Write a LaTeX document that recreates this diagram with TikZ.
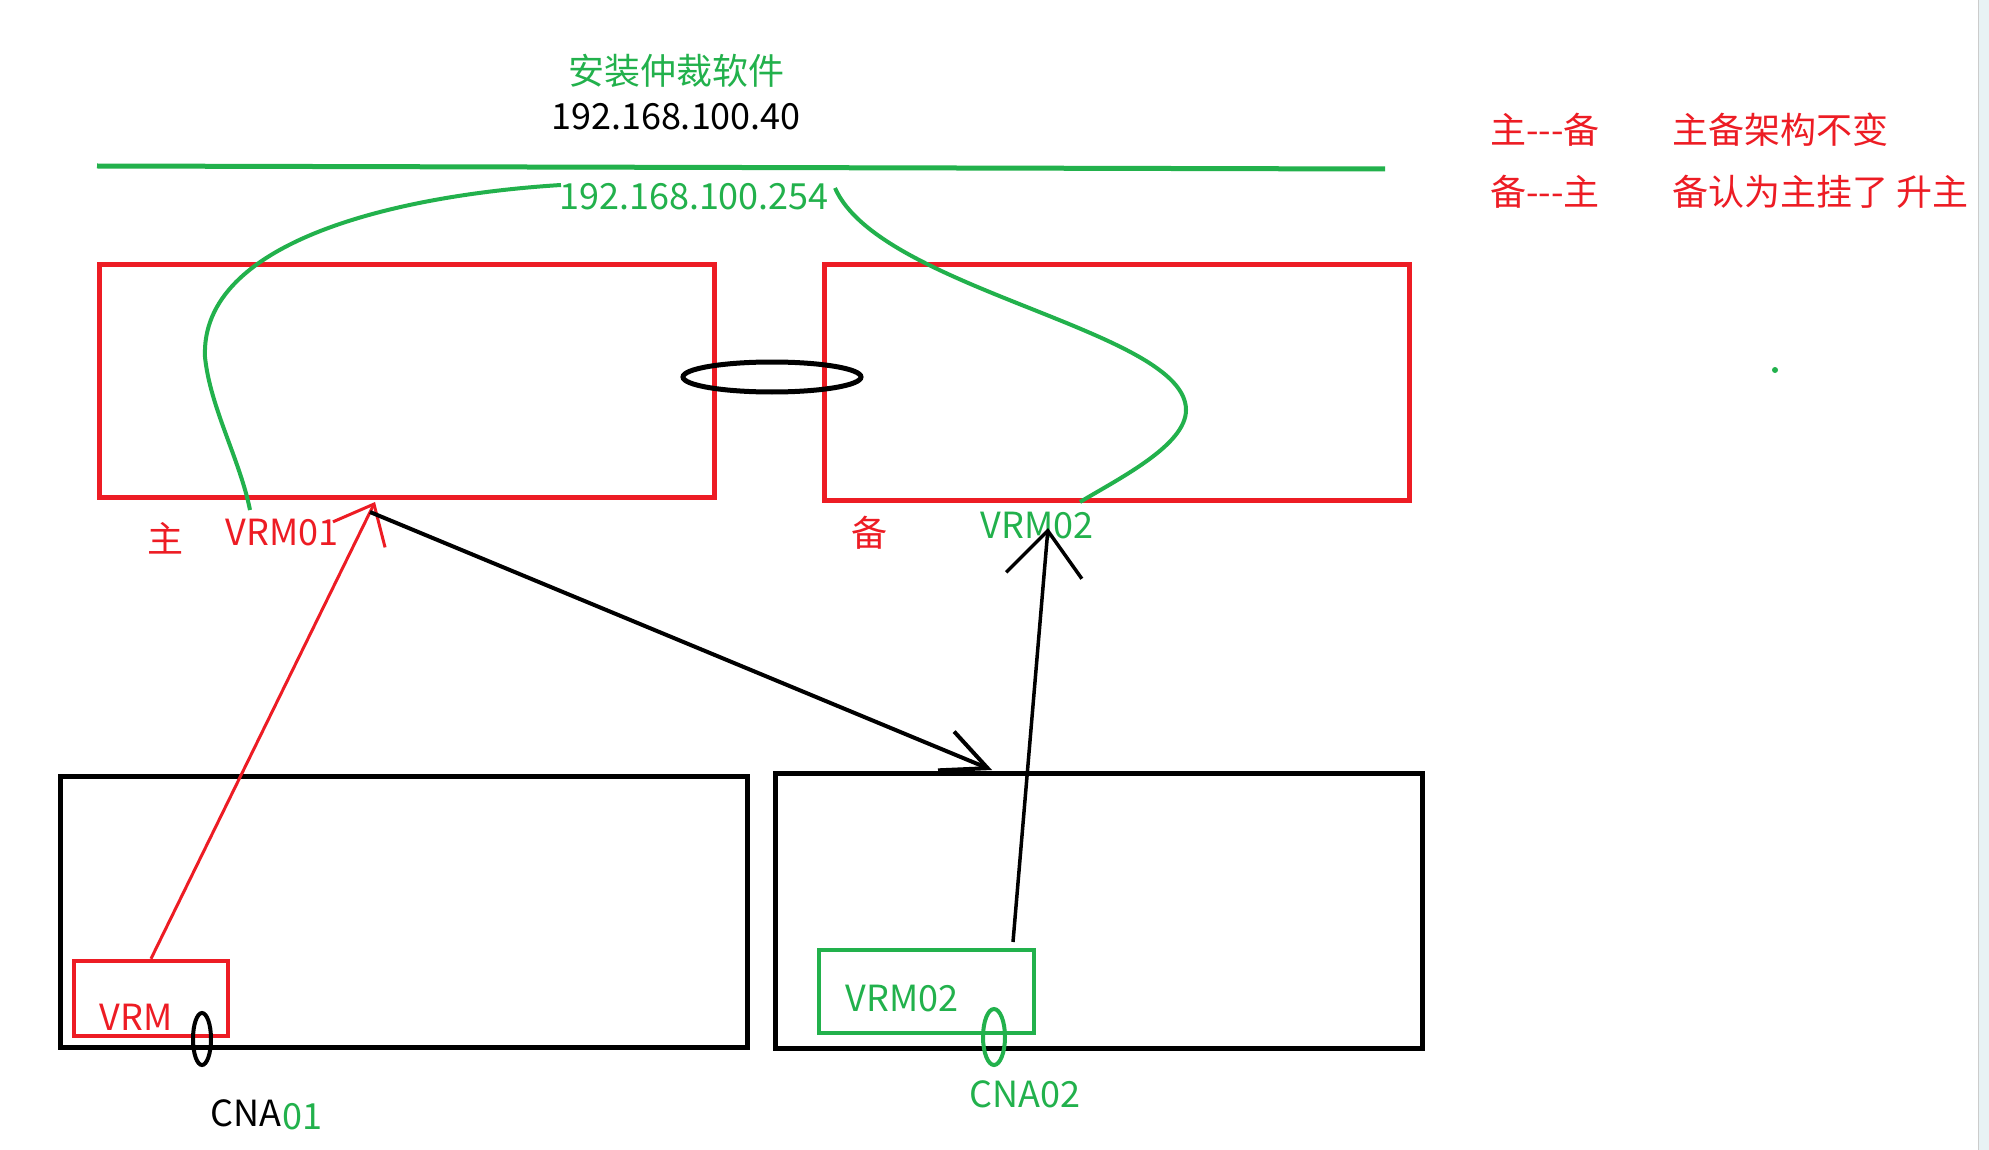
\documentclass[tikz,border=0pt]{standalone}
\usepackage{fontspec}
\setmainfont{Noto Sans CJK SC}
\usetikzlibrary{arrows.meta,shapes.geometric}
\definecolor{pred}{RGB}{237,28,36}
\definecolor{pgreen}{RGB}{34,177,76}
\definecolor{pband}{RGB}{232,242,244}
\begin{document}
\begin{tikzpicture}[x=1pt,y=-1pt,
  lbl/.style={inner sep=0pt, font=\fontsize{36}{40}\selectfont},
  redbox/.style={draw=pred, line width=5pt, inner sep=0pt},
  blackbox/.style={draw=black, line width=5pt, inner sep=0pt},
  gcurve/.style={draw=pgreen, line width=4pt},
]
\useasboundingbox (0,0) rectangle (1989,1150);
\fill[white] (0,0) rectangle (1989,1150);
\fill[pband] (1978,0) rectangle (1989,1150);
\draw[gray!40, line width=1pt] (1978,0) -- (1978,1150);

% top texts
\node[lbl, text=pgreen] (title) at (676,71) {安装仲裁软件};
\node[lbl] (ip40) at (676,117) {192.168.100.40};
\node[lbl, text=pgreen] (ip254) at (694,197) {192.168.100.254};

% network line
\coordinate (gl1) at (97,166);
\coordinate (gl2) at (1385,169);
\draw[pgreen, line width=5pt] (gl1) -- (gl2);

% upper red boxes
\node[redbox, minimum width=615pt, minimum height=232pt] (b1) at (406.5,381) {};
\node[redbox, minimum width=585pt, minimum height=235pt] (b2) at (1116.5,382.5) {};
\node[draw, ellipse, line width=5pt, inner sep=0pt, minimum width=178pt, minimum height=30pt] (link) at (772,377) {};

% labels under upper boxes
\node[lbl, text=pred] (zhu) at (165,538) {主};
\node[lbl, text=pred] (vrm01) at (282,533) {VRM01};
\node[lbl, text=pred] (bei) at (869,533) {备};
\node[lbl, text=pgreen] (vrm02lbl) at (1037,526) {VRM02};

% lower black boxes
\node[blackbox, minimum width=687pt, minimum height=271pt] (b3) at (403.5,911.5) {};
\node[blackbox, minimum width=647pt, minimum height=275pt] (b4) at (1098.5,911) {};

% inner boxes
\node[draw=pred, line width=4.5pt, inner sep=0pt, minimum width=154pt, minimum height=75pt] (vrmbox) at (151,998.5) {};
\node[lbl, text=pred] (vrmtxt) at (136,1017) {VRM};
\node[draw=pgreen, line width=4.5pt, inner sep=0pt, minimum width=215pt, minimum height=83pt] (vrm2box) at (926.5,991.5) {};
\node[lbl, text=pgreen] (vrm2txt) at (902,999) {VRM02};

% small ellipses (CNA)
\node[draw, ellipse, line width=4pt, inner sep=0pt, minimum width=18pt, minimum height=52pt] (cna1e) at (202,1039) {};
\node[draw=pgreen, ellipse, line width=4pt, inner sep=0pt, minimum width=22pt, minimum height=56pt] (cna2e) at (994,1037) {};
\node[lbl, anchor=east] (cna1) at (282,1113) {CNA};
\node[lbl, anchor=west, text=pgreen] (cna1n) at (282,1117) {01};
\node[lbl, text=pgreen] (cna2) at (1025,1094) {CNA02};

% right notes
\node[lbl, anchor=west, text=pred] (n1a) at (1490,130) {主-{}-{}-备};
\node[lbl, anchor=west, text=pred] (n1b) at (1672,130) {主备架构不变};
\node[lbl, anchor=west, text=pred] (n2a) at (1490,192) {备-{}-{}-主};
\node[lbl, anchor=west, text=pred] (n2b) at (1672,192) {备认为主挂了 升主};
\fill[pgreen] (1775,370) circle (3pt);

% green curves (virtual IP)
\coordinate (c1s) at (561,185);
\coordinate (c1m) at (205,357);
\coordinate (c1e) at (250,510);
\draw[gcurve] (c1s) .. controls (400,195) and (200,240) .. (c1m)
  .. controls (210,407) and (240,460) .. (c1e);
\coordinate (c2s) at (835,188);
\coordinate (c2m) at (1186,410);
\coordinate (c2e) at (1080,502);
\draw[gcurve] (c2s) .. controls (880,290) and (1186,330) .. (c2m)
  .. controls (1186,445) and (1120,478) .. (c2e);

% arrows
\coordinate (rtip) at (375,502);
\draw[pred, line width=3pt, -{Straight Barb[length=34pt,width=58pt]}] (vrmbox.north) -- (rtip);
\coordinate (btail) at (370,512);
\coordinate (btip) at (992,770);
\draw[line width=4pt, -{Straight Barb[length=45pt,width=42pt]}] (btail) -- (btip);
\coordinate (utail) at (1013,942);
\coordinate (utip) at (1048,528);
\draw[line width=3.5pt, -{Straight Barb[length=45pt,width=76pt]}] (utail) -- (utip);
\end{tikzpicture}
\end{document}
